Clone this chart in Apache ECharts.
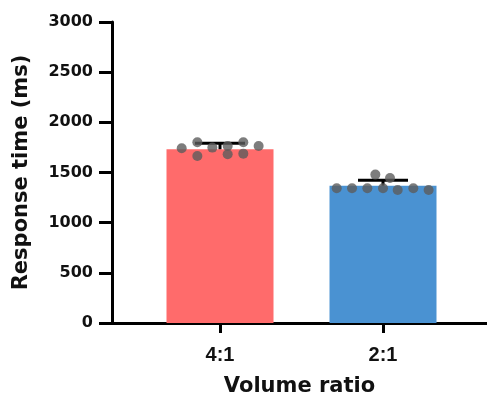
<!DOCTYPE html>
<html>
<head>
<meta charset="utf-8">
<script src="https://cdn.jsdelivr.net/npm/echarts@6/dist/echarts.min.js"></script>
<style>
    html,body{margin:0;padding:0;background:#fff;}
    #main{width:487px;height:396px;}
</style>
</head>
<body>
<div id="main"></div>
<script>
// categories and positions on the x axis
var categories = ['4:1', '2:1'];
var catPos = [1, 2];
var barColors = ['#FF6B6B', '#4A92D2'];

// bar means and the top of the error bars
var means = [1732, 1369];
var errTop = [1791, 1422];

// individual points (jitter is in x-axis units)
var dots41 = [1742, 1802, 1665, 1748, 1765, 1682, 1802, 1688, 1765];
var jitter41 = [-0.235, -0.139, -0.139, -0.047, 0.047, 0.047, 0.143, 0.143, 0.237];
var dots21 = [1343, 1343, 1343, 1479, 1343, 1446, 1326, 1343, 1326];
var jitter21 = [-0.284, -0.190, -0.096, -0.047, 0, 0.043, 0.090, 0.186, 0.280];

var yTicks = [0, 500, 1000, 1500, 2000, 2500, 3000];

var font = 'DejaVu Sans';
var font2 = 'Liberation Sans';

var barData = [];
var errData = [];
for (var i = 0; i < categories.length; i++) {
    barData.push({value: [catPos[i], means[i]], itemStyle: {color: barColors[i]}});
    errData.push([catPos[i], means[i], errTop[i]]);
}
var dotData = [];
var allDots = [dots41, dots21];
var allJit = [jitter41, jitter21];
for (var c = 0; c < allDots.length; c++) {
    for (var k = 0; k < allDots[c].length; k++) {
        dotData.push([catPos[c] + allJit[c][k], allDots[c][k]]);
    }
}

var chart = echarts.init(document.getElementById('main'));
var option = {
    animation: false,
    grid: {left: 112, right: 0, top: 22, bottom: 73, containLabel: false, outerBoundsMode: 'none'},
    xAxis: {
        type: 'value',
        min: 0.3374,
        max: 2.638,
        name: 'Volume ratio',
        nameLocation: 'middle',
        nameGap: 53,
        nameTextStyle: {fontFamily: font, fontWeight: 'bold', fontSize: 21, color: '#111'},
        axisLine: {show: true, lineStyle: {color: '#000', width: 3}},
        axisTick: {show: true, customValues: catPos, length: 10, lineStyle: {color: '#000', width: 3}},
        axisLabel: {
            customValues: catPos,
            margin: 22,
            fontFamily: font2, fontWeight: 'bold', fontSize: 20, color: '#111',
            formatter: function (v) {
                var idx = catPos.indexOf(v);
                return idx >= 0 ? categories[idx] : '';
            }
        },
        splitLine: {show: false}
    },
    yAxis: {
        type: 'value',
        min: yTicks[0],
        max: yTicks[yTicks.length - 1],
        interval: 500,
        name: 'Response time (ms)',
        nameLocation: 'middle',
        nameGap: 80,
        nameTextStyle: {fontFamily: font, fontWeight: 'bold', fontSize: 21, color: '#111'},
        axisLine: {show: true, lineStyle: {color: '#000', width: 3}},
        axisTick: {show: true, length: 13, lineStyle: {color: '#000', width: 3}},
        axisLabel: {
            margin: 19, fontFamily: font, fontWeight: 'bold', fontSize: 16, color: '#111',
            formatter: function (v) { return String(v); }
        },
        splitLine: {show: false}
    },
    series: [
        {
            type: 'bar',
            data: barData,
            barWidth: 107,
            z: 1
        },
        {
            // error bars (upper only)
            type: 'custom',
            data: errData,
            z: 3,
            renderItem: function (params, api) {
                var x = api.value(0);
                var base = api.coord([x, api.value(1)]);
                var top = api.coord([x, api.value(2)]);
                var half = 25;
                return {
                    type: 'group',
                    children: [
                        {type: 'line', shape: {x1: base[0], y1: base[1], x2: top[0], y2: top[1]}, style: {stroke: '#000', lineWidth: 3}},
                        {type: 'line', shape: {x1: top[0] - half, y1: top[1], x2: top[0] + half, y2: top[1]}, style: {stroke: '#000', lineWidth: 3}}
                    ]
                };
            }
        },
        {
            type: 'scatter',
            data: dotData,
            symbolSize: 10,
            itemStyle: {color: '#5c5c5c'},
            z: 5
        }
    ]
};
chart.setOption(option);
</script>
</body>
</html>
